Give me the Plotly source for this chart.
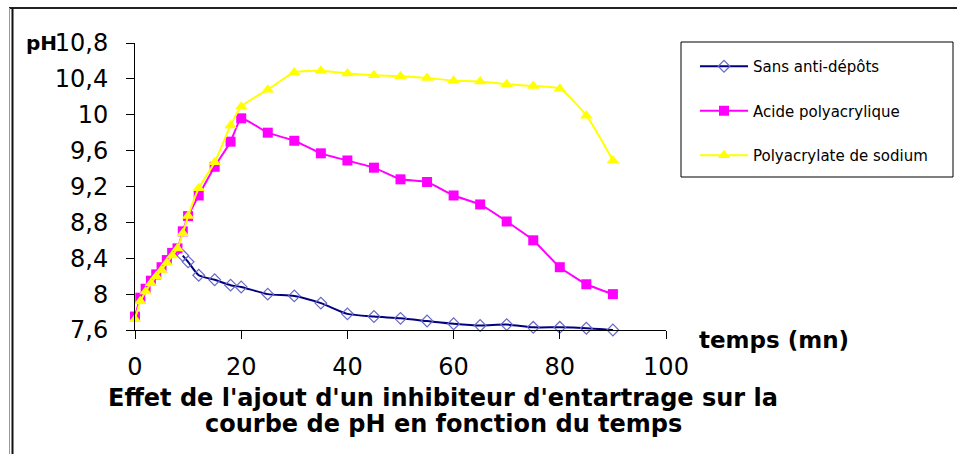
import plotly.graph_objects as go

# ---- data ----
t_blue = [9, 10, 12, 15, 18, 20, 25, 30, 35, 40, 45, 50, 55, 60, 65, 70, 75, 80, 85, 90]
ph_blue = [8.43, 8.36, 8.21, 8.16, 8.10, 8.08, 8.0, 7.98, 7.90,
           7.78, 7.75, 7.73, 7.70, 7.67, 7.65, 7.66, 7.63, 7.63, 7.62, 7.60]

t_mag = [0, 1, 2, 3, 4, 5, 6, 7, 8, 9, 10, 12, 15, 18, 20, 25, 30, 35, 40, 45, 50, 55, 60, 65, 70, 75, 80, 85, 90]
ph_mag = [7.75, 7.96, 8.06, 8.15, 8.22, 8.30, 8.38, 8.46, 8.51, 8.70, 8.87, 9.10, 9.42, 9.70, 9.96, 9.80, 9.71, 9.57,
          9.49, 9.41, 9.28, 9.25, 9.10, 9.00, 8.81, 8.60, 8.30, 8.11, 8.00]

t_yel = [0, 1, 2, 3, 4, 5, 6, 7, 8, 9, 10, 12, 15, 18, 20, 25, 30, 35, 40, 45, 50, 55, 60, 65, 70, 75, 80, 85, 90]
ph_yel = [7.72, 7.92, 8.03, 8.12, 8.20, 8.27, 8.35, 8.43, 8.51, 8.68, 8.87, 9.18, 9.47, 9.88, 10.09, 10.28, 10.47, 10.49,
          10.46, 10.44, 10.43, 10.41, 10.38, 10.37, 10.34, 10.32, 10.29, 9.99, 9.49]

names = ["Sans anti-dépôts", "Acide polyacrylique", "Polyacrylate de sodium"]

y_tickvals = [7.6, 8.0, 8.4, 8.8, 9.2, 9.6, 10.0, 10.4, 10.8]
y_ticktext = ["7,6", "8", "8,4", "8,8", "9,2", "9,6", "10", "10,4", "10,8"]
x_tickvals = [0, 20, 40, 60, 80, 100]
x_ticktext = ["0", "20", "40", "60", "80", "100"]

FONT = "DejaVu Sans"

fig = go.Figure()
fig.add_trace(go.Scatter(
    x=t_blue, y=ph_blue, name=names[0], mode="lines+markers", legendgroup="a",
    line=dict(color="#000080", width=2, shape="spline", smoothing=0.6),
    marker=dict(symbol="diamond-open", size=9, color="#6868c8", line=dict(width=1.2, color="#6868c8")),
    cliponaxis=False))
fig.add_trace(go.Scatter(
    x=t_mag, y=ph_mag, name=names[1], mode="lines+markers", legendgroup="b",
    line=dict(color="#ff00ff", width=2, shape="spline", smoothing=0.4),
    marker=dict(symbol="square", size=10, color="#ff00ff"),
    cliponaxis=False))
fig.add_trace(go.Scatter(
    x=t_yel, y=ph_yel, name=names[2], mode="lines+markers", legendgroup="c",
    line=dict(color="#ffff00", width=2, shape="spline", smoothing=0.6),
    marker=dict(symbol="triangle-up", size=11, color="#ffff00"),
    cliponaxis=False))

L, R, T, B = 135, 291, 43, 124
W, H = 957, 454
pw, ph = W - L - R, H - T - B

def px(xpix):
    return (xpix - L) / pw

def py(ypix):
    return (H - B - ypix) / ph

shapes = [
    # legend box
    dict(type="rect", xref="paper", yref="paper", x0=px(681), x1=px(953), y0=py(177), y1=py(42),
         line=dict(color="#000000", width=1), fillcolor="rgba(0,0,0,0)"),
    # outer frame
    dict(type="line", xref="paper", yref="paper", x0=px(9), x1=px(957), y0=py(8), y1=py(8),
         line=dict(color="#222222", width=2)),
    dict(type="line", xref="paper", yref="paper", x0=px(9.5), x1=px(9.5), y0=py(8), y1=py(454),
         line=dict(color="#999999", width=1)),
    dict(type="line", xref="paper", yref="paper", x0=px(12.5), x1=px(12.5), y0=py(8), y1=py(454),
         line=dict(color="#111111", width=2)),
]

annotations = [
    dict(text="<b>pH</b>", xref="paper", yref="paper", x=px(41), y=py(43), xanchor="center", yanchor="middle",
         showarrow=False, font=dict(family=FONT, size=20, color="#000")),
    dict(text="<b>temps (mn)</b>", xref="paper", yref="paper", x=px(697), y=py(340), xanchor="left", yanchor="middle",
         showarrow=False, font=dict(family=FONT, size=23, color="#000")),
    dict(text="<b>Effet de l'ajout d'un inhibiteur d'entartrage sur la</b>", xref="paper", yref="paper",
         x=px(443), y=py(398), xanchor="center", yanchor="middle",
         showarrow=False, font=dict(family=FONT, size=24, color="#000")),
    dict(text="<b>courbe de pH en fonction du temps</b>", xref="paper", yref="paper",
         x=px(443), y=py(424), xanchor="center", yanchor="middle",
         showarrow=False, font=dict(family=FONT, size=24, color="#000")),
]

fig.update_layout(
    width=W, height=H,
    margin=dict(l=L, r=R, t=T, b=B, autoexpand=False),
    paper_bgcolor="white", plot_bgcolor="white",
    showlegend=True,
    legend=dict(x=px(695), y=py(50), xanchor="left", yanchor="top", bgcolor="rgba(0,0,0,0)",
                borderwidth=0, font=dict(family=FONT, size=15, color="#000"),
                tracegroupgap=22, itemwidth=48),
    shapes=shapes, annotations=annotations,
    font=dict(family=FONT, color="#000"),
)
fig.update_xaxes(range=[0, 100], tickvals=x_tickvals, ticktext=x_ticktext, showgrid=False, zeroline=False,
                 showline=True, linecolor="#000", linewidth=1, ticks="outside", ticklen=8, tickcolor="#000",
                 tickfont=dict(family=FONT, size=24, color="#000"), ticklabelstandoff=7)
fig.update_yaxes(range=[7.6, 10.8], tickvals=y_tickvals, ticktext=y_ticktext, showgrid=False, zeroline=False,
                 showline=True, linecolor="#000", linewidth=1, ticks="outside", ticklen=8, tickcolor="#000",
                 tickfont=dict(family=FONT, size=24, color="#000"), ticklabelstandoff=13)

fig.write_html("out.html", config={"displayModeBar": False},
               post_script="document.body.style.margin='0px';")
